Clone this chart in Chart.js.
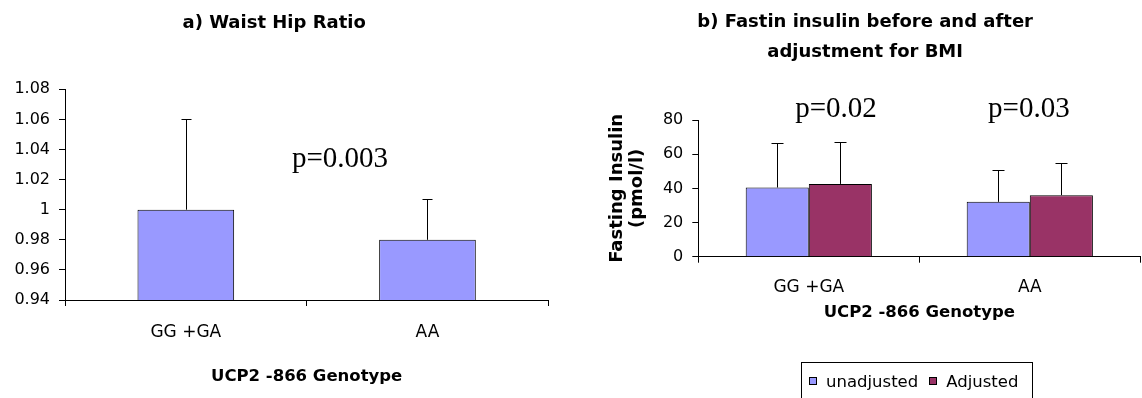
<!DOCTYPE html>
<html>
<head>
<meta charset="utf-8">
<script src="https://cdn.jsdelivr.net/npm/chart.js@4"></script>
<style>
    html, body { margin: 0; padding: 0; background: #fff; }
    body { width: 1142px; height: 398px; position: relative; overflow: hidden; }
    #whrChart { position: absolute; left: 0; top: 0; }
    #insulinChart { position: absolute; left: 590px; top: 0; }
    #insulinLegend {
        position: absolute; left: 801px; top: 362px;
        width: 232px; height: 44px;
        border: 1px solid #000; box-sizing: border-box;
        display: flex; align-items: center; padding: 0 0 6px 7px;
        font: 16.5px 'DejaVu Sans', sans-serif; line-height: 19px; color: #000;
    }
    #insulinLegend .item { display: flex; align-items: center; margin-right: 11px; }
    #insulinLegend .swatch {
        width: 8px; height: 8px; border: 1px solid #000; box-sizing: border-box;
        margin-right: 9px;
    }
</style>
</head>
<body>
<canvas id="whrChart" width="555" height="398"></canvas>
<canvas id="insulinChart" width="552" height="398"></canvas>
<div id="insulinLegend"></div>

<script>
/* =======================
   DATA
   ======================= */

const genotypes = ['GG +GA', 'AA'];

// a) waist hip ratio, mean and SD
const whrMean = [1.00, 0.98];
const whrSD = [0.06, 0.027];
const whrMin = 0.94, whrMax = 1.08, whrStep = 0.02;

// b) fasting insulin (pmol/l), mean and SD
const insulinSeries = ['unadjusted', 'Adjusted'];
const insulinUnadj = [40.5, 32.1];
const insulinUnadjSD = [25.9, 18.7];
const insulinAdj = [42.6, 36.0];
const insulinAdjSD = [24.4, 19.0];
const insulinMin = 0, insulinMax = 80, insulinStep = 20;

const seriesColors = ['#9999FF', '#993366'];

// p-value labels (x in category units, y in axis units)
const whrNotes = [{ text: 'p=0.003', x: 0.638, y: 1.0286 }];
const insulinNotes = [
    { text: 'p=0.02', x: 0.123, y: 81.7 },
    { text: 'p=0.03', x: 0.996, y: 81.7 }
];

const SANS = "'DejaVu Sans', sans-serif";
const SERIF = "'Liberation Serif', 'Times New Roman', serif";

Chart.defaults.color = '#000';
Chart.defaults.font.family = SANS;
Chart.defaults.animation = false;


/* =======================
   PLUGINS
   ======================= */

// upward error bars with a small cap
const errorBars = {
    id: 'errorBars',
    afterDatasetsDraw(chart, args, opts) {
        const ctx = chart.ctx;
        const y = chart.scales.y;
        ctx.save();
        ctx.strokeStyle = '#000';
        ctx.lineWidth = 1;
        chart.data.datasets.forEach((ds, i) => {
            const meta = chart.getDatasetMeta(i);
            meta.data.forEach((bar, j) => {
                const top = Math.round(y.getPixelForValue(ds.data[j] + ds.sd[j])) + 0.5;
                const x = Math.round(bar.x) + 0.5;
                ctx.beginPath();
                ctx.moveTo(x, bar.y);
                ctx.lineTo(x, top);
                ctx.moveTo(x - opts.cap, top);
                ctx.lineTo(x + opts.cap, top);
                ctx.stroke();
            });
        });
        ctx.restore();
    }
};

// p-value text
const pLabels = {
    id: 'pLabels',
    afterDraw(chart, args, opts) {
        const ctx = chart.ctx;
        ctx.save();
        ctx.font = '29px ' + SERIF;
        ctx.fillStyle = '#000';
        ctx.textAlign = 'center';
        ctx.textBaseline = 'alphabetic';
        (opts.notes || []).forEach(n => {
            ctx.fillText(n.text,
                chart.scales.x.getPixelForValue(n.x),
                chart.scales.y.getPixelForValue(n.y));
        });
        ctx.restore();
    }
};

function axisGrid() {
    return { display: true, drawOnChartArea: false, drawTicks: true, tickLength: 6, color: '#000' };
}


/* =======================
   a) WAIST HIP RATIO
   ======================= */

new Chart(document.getElementById('whrChart'), {
    type: 'bar',
    data: {
        labels: genotypes,
        datasets: [{
            data: whrMean,
            sd: whrSD,
            backgroundColor: seriesColors[0],
            borderColor: '#000',
            borderWidth: 1,
            categoryPercentage: 0.4,
            barPercentage: 1
        }]
    },
    options: {
        responsive: false,
        layout: { padding: { left: 0, right: 6.7, top: 0, bottom: 0 } },
        plugins: {
            legend: { display: false },
            tooltip: { enabled: false },
            title: {
                display: true,
                text: 'a) Waist Hip Ratio',
                color: '#000',
                font: { size: 18, weight: 'bold', lineHeight: 1.2 },
                padding: { top: 12.5, bottom: 55.2 }
            },
            errorBars: { cap: 5 },
            pLabels: { notes: whrNotes }
        },
        scales: {
            x: {
                grid: Object.assign(axisGrid(), { offset: true }),
                border: { color: '#000' },
                ticks: { font: { size: 17 }, padding: 16, maxRotation: 0 },
                title: {
                    display: true,
                    text: 'UCP2 -866 Genotype',
                    font: { size: 16.5, weight: 'bold' },
                    padding: { top: 0, bottom: 11.6 }
                },
                afterFit: s => { s.height = 98; }
            },
            y: {
                min: whrMin,
                max: whrMax,
                grid: axisGrid(),
                border: { color: '#000' },
                ticks: {
                    stepSize: whrStep,
                    font: { size: 16 },
                    padding: 9,
                    callback: v => String(Number(v.toFixed(2)))
                },
                afterFit: s => { s.width = 65; }
            }
        }
    },
    plugins: [errorBars, pLabels]
});


/* =======================
   b) FASTING INSULIN
   ======================= */

const insulinValues = [insulinUnadj, insulinAdj];
const insulinSDs = [insulinUnadjSD, insulinAdjSD];

new Chart(document.getElementById('insulinChart'), {
    type: 'bar',
    data: {
        labels: genotypes,
        datasets: insulinSeries.map((name, i) => ({
            label: name,
            data: insulinValues[i],
            sd: insulinSDs[i],
            backgroundColor: seriesColors[i],
            borderColor: '#000',
            borderWidth: 1,
            categoryPercentage: 0.571,
            barPercentage: 1
        }))
    },
    options: {
        responsive: false,
        layout: { padding: { left: 0, right: 1.7, top: 0, bottom: 0 } },
        plugins: {
            legend: { display: false },
            tooltip: { enabled: false },
            title: {
                display: true,
                text: ['b) Fastin insulin before and after', 'adjustment for BMI'],
                color: '#000',
                font: { size: 18, weight: 'bold', lineHeight: 1.667 },
                padding: { top: 7.5, bottom: 52.5 }
            },
            errorBars: { cap: 6 },
            pLabels: { notes: insulinNotes }
        },
        scales: {
            x: {
                grid: Object.assign(axisGrid(), { offset: true }),
                border: { color: '#000' },
                ticks: { font: { size: 17 }, padding: 15, maxRotation: 0 },
                title: {
                    display: true,
                    text: 'UCP2 -866 Genotype',
                    font: { size: 16.5, weight: 'bold' },
                    padding: { top: 0, bottom: 75 }
                },
                afterFit: s => { s.height = 141.3; }
            },
            y: {
                min: insulinMin,
                max: insulinMax,
                grid: axisGrid(),
                border: { color: '#000' },
                ticks: { stepSize: insulinStep, font: { size: 16 }, padding: 9 },
                title: {
                    display: true,
                    text: ['Fasting Insulin', '(pmol/l)'],
                    font: { size: 18, weight: 'bold', lineHeight: 1.15 },
                    padding: { top: 16.6, bottom: 0 }
                },
                afterFit: s => { s.width = 108.3; }
            }
        }
    },
    plugins: [errorBars, pLabels]
});


/* =======================
   LEGEND (boxed, below chart b)
   ======================= */

document.getElementById('insulinLegend').innerHTML = insulinSeries.map((name, i) => `
    <span class="item">
        <span class="swatch" style="background:${seriesColors[i]}"></span>${name}
    </span>
`).join('');
</script>
</body>
</html>
